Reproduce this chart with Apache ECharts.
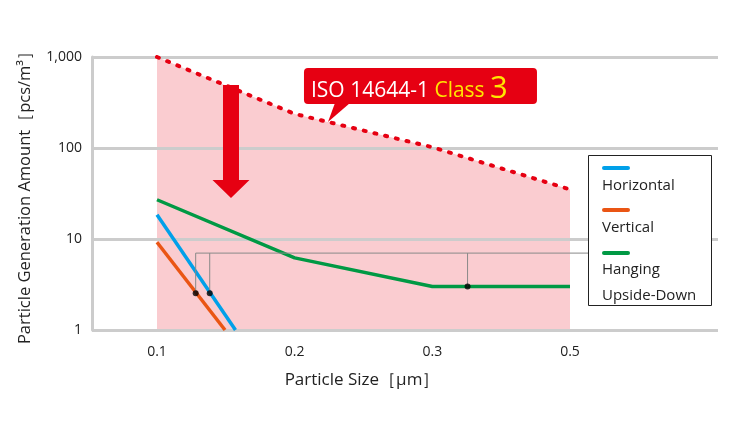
<!DOCTYPE html>
<html><head><meta charset="utf-8">
<script src="https://cdn.jsdelivr.net/npm/echarts@6/dist/echarts.min.js"></script>
<style>html,body{margin:0;padding:0;background:#fff}#c{width:740px;height:427px}</style>
</head><body><div id="c"></div>
<script>
// ---- data ----
const xLabels = ['0.1', '0.2', '0.3', '0.5'];
const xPositions = [0, 1, 2, 3];
const class3Limit = [1000, 237, 102, 35];
const horizontal = [[0, 18.5], [0.57, 1]];
const vertical = [[0, 9.2], [0.494, 1]];
const hanging = [27, 6.2, 3, 3];
const pointVertical = [0.281, 2.53];
const pointHorizontal = [0.383, 2.53];
const pointHanging = [2.256, 3];
const leaderLevel = 7;
const leaderEnd = 3.131;
const arrowTop = [0.5375, 492];
const arrowTip = [0.5375, 28.2];
const calloutAnchor = [1.242, 193];
const seriesNames = ['Horizontal', 'Vertical', 'Hanging\nUpside-Down'];
const seriesColors = ['#00a0e9', '#ea5514', '#009944'];

const FONT = 'Open Sans';
const RED = '#e60012';
const class3Data = xPositions.map((x, i) => [x, class3Limit[i]]);
const hangingData = xPositions.map((x, i) => [x, hanging[i]]);

const chart = echarts.init(document.getElementById('c'));
const option = {
  animation: false,
  textStyle: {fontFamily: FONT},
  grid: {left: 92, right: 22, top: 57, bottom: 97},
  xAxis: {
    type: 'value', min: -0.4721, max: 4.075,
    axisLine: {show: false}, axisTick: {show: false}, splitLine: {show: false},
    axisLabel: {customValues: xPositions, formatter: v => xLabels[Math.round(v)] || '',
      color: '#222', fontSize: 14, margin: 15, fontFamily: FONT},
    name: 'Particle Size［μm］', nameLocation: 'middle', nameGap: 42,
    nameTextStyle: {color: '#222', fontSize: 17, fontFamily: FONT, padding: [0, 86, 0, 0]}
  },
  yAxis: {
    type: 'log', logBase: 10, min: 1, max: 1000,
    axisLine: {show: true, onZero: false, lineStyle: {color: '#cccccc', width: 3}},
    axisTick: {show: false},
    splitLine: {show: true, lineStyle: {color: '#cccccc', width: 3}},
    axisLabel: {formatter: v => Number(v).toLocaleString('en-US'), color: '#222', fontSize: 14, margin: 10, fontFamily: FONT},
    name: 'Particle Generation Amount［pcs/m³］', nameLocation: 'middle', nameGap: 58, nameRotate: 90,
    nameTextStyle: {color: '#222', fontSize: 16.5, fontFamily: FONT}
  },
  series: [
    {type: 'line', name: 'class3area', data: class3Data, z: -1, symbol: 'none',
      lineStyle: {width: 0, opacity: 0}, areaStyle: {color: RED, opacity: 0.2, origin: 'start'}},
    {type: 'line', name: 'class3', data: class3Data, z: 3, symbol: 'none',
      lineStyle: {color: RED, width: 4, type: [2, 9], cap: 'round'}},
    {type: 'line', name: seriesNames[0], data: horizontal, symbol: 'none', z: 4,
      lineStyle: {color: seriesColors[0], width: 3.5}},
    {type: 'line', name: seriesNames[1], data: vertical, symbol: 'none', z: 4,
      lineStyle: {color: seriesColors[1], width: 3.5}},
    {type: 'line', name: seriesNames[2], data: hangingData, symbol: 'none', z: 4,
      lineStyle: {color: seriesColors[2], width: 3.5}},
    {type: 'lines', coordinateSystem: 'cartesian2d', polyline: true, z: 5, silent: true,
      lineStyle: {color: '#888', width: 1, opacity: 1},
      data: [
        {coords: [pointVertical, [pointVertical[0], leaderLevel], [leaderEnd, leaderLevel]]},
        {coords: [pointHorizontal, [pointHorizontal[0], leaderLevel]]},
        {coords: [pointHanging, [pointHanging[0], leaderLevel]]}
      ]},
    {type: 'scatter', data: [pointVertical, pointHorizontal, pointHanging], symbolSize: 6, z: 6,
      itemStyle: {color: '#000'}}
  ]
};
chart.setOption(option);

const px = p => chart.convertToPixel({gridIndex: 0}, p);
const aTop = px(arrowTop), aTip = px(arrowTip);
const cx = aTop[0];
const headY = aTip[1] - 18;
const ct = px(calloutAnchor);
const boxL = ct[0] - 24, boxT = ct[1] - 54, boxW = 233, boxH = 36;

const legendX = 588, legendY = 155;
const legendItems = [
  {name: 'Horizontal', color: seriesColors[0], ly: 168, ty: 186},
  {name: 'Vertical', color: seriesColors[1], ly: 210, ty: 228},
  {name: 'Hanging', color: seriesColors[2], ly: 253, ty: 270}
];
const graphics = [
  {type: 'polygon', z: 10, shape: {points: [
    [cx - 8, aTop[1]], [cx + 8, aTop[1]], [cx + 8, headY], [cx + 18.5, headY],
    [cx, aTip[1]], [cx - 18.5, headY], [cx - 8, headY]]}, style: {fill: RED}},
  {type: 'rect', z: 10, shape: {x: boxL, y: boxT, width: boxW, height: boxH, r: 4}, style: {fill: RED}},
  {type: 'polygon', z: 10, shape: {points: [[ct[0] + 7, boxT + boxH - 1], [ct[0] + 22, boxT + boxH - 1], [ct[0], ct[1]]]}, style: {fill: RED}},
  {type: 'text', z: 11, x: boxL + 7, y: boxT + boxH / 2 + 1, style: {
    text: '{w|ISO 14644-1 }{y|Class }{b|3}', verticalAlign: 'middle',
    rich: {
      w: {fill: '#fff', fontSize: 21, fontFamily: FONT, verticalAlign: 'bottom', lineHeight: 30},
      y: {fill: '#ffe600', fontSize: 21, fontFamily: FONT, verticalAlign: 'bottom', lineHeight: 30},
      b: {fill: '#ffe600', fontSize: 31, fontFamily: FONT, verticalAlign: 'bottom', lineHeight: 30, padding: [0, 0, -3, 0]}
    }}},
  {type: 'rect', z: 10, shape: {x: legendX + 0.5, y: legendY + 0.5, width: 123, height: 150},
    style: {fill: '#fff', stroke: '#222', lineWidth: 1}}
];
legendItems.forEach(it => {
  graphics.push({type: 'line', z: 11, shape: {x1: 604, y1: it.ly, x2: 628, y2: it.ly},
    style: {stroke: it.color, lineWidth: 4, lineCap: 'round'}});
  graphics.push({type: 'text', z: 11, x: 602, y: it.ty, style: {text: it.name, fill: '#222',
    fontSize: 15, fontFamily: FONT, verticalAlign: 'middle'}});
});
graphics.push({type: 'text', z: 11, x: 602, y: 296, style: {text: 'Upside-Down', fill: '#222',
  fontSize: 15, fontFamily: FONT, verticalAlign: 'middle'}});
chart.setOption({graphic: graphics});
</script></body></html>
